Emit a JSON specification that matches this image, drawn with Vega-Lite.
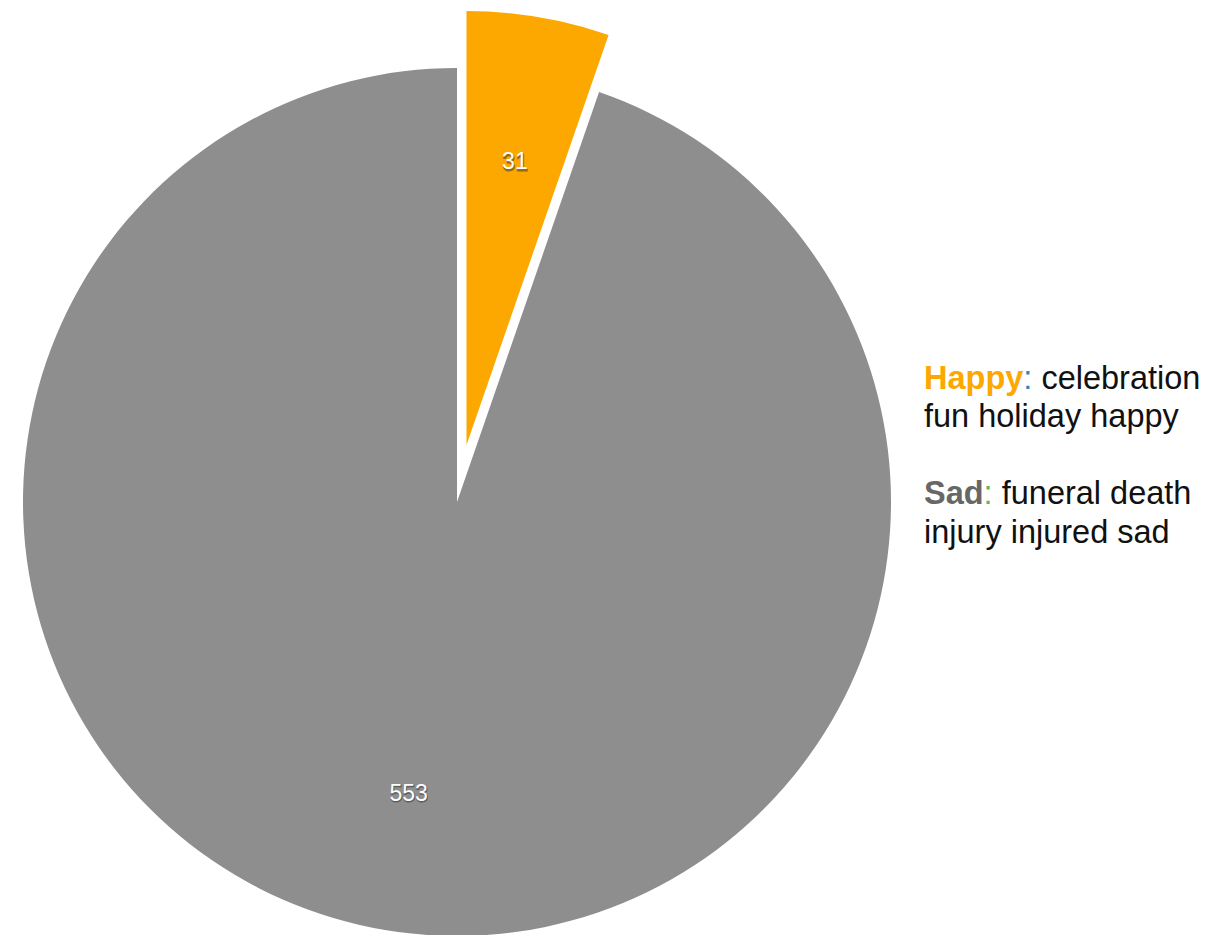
{
  "$schema": "https://vega.github.io/schema/vega-lite/v6.json",
  "padding": 0,
  "spacing": 10,
  "background": "white",
  "config": {"view": {"stroke": null}, "font": "Liberation Sans"},
  "hconcat": [
    {
      "width": 914,
      "height": 935,
      "data": {"values": [
        {"category": "Happy", "count": 31},
        {"category": "Sad", "count": 553}
      ]},
      "encoding": {
        "theta": {"field": "count", "type": "quantitative", "stack": true},
        "order": {"field": "category", "sort": "ascending"}
      },
      "layer": [
        {
          "mark": {
            "type": "arc",
            "outerRadius": 434,
            "clip": true,
            "xOffset": {"expr": "datum.category === 'Happy' ? 9.5 : 0"},
            "yOffset": {"expr": "datum.category === 'Happy' ? -22.5 : 34.5"}
          },
          "encoding": {
            "color": {
              "field": "category",
              "type": "nominal",
              "scale": {"domain": ["Happy", "Sad"], "range": ["#FCA800", "#8E8E8E"]},
              "legend": null
            }
          }
        },
        {
          "mark": {
            "type": "text",
            "radius": 291.5,
            "fontSize": 23,
            "fill": "#222222",
            "stroke": "#222222",
            "strokeWidth": 1,
            "opacity": 0.45,
            "dy": 6,
            "dx": 0.5,
            "xOffset": {"expr": "datum.category === 'Happy' ? 9.5 : 0"},
            "yOffset": {"expr": "datum.category === 'Happy' ? -22.5 : 34.5"}
          },
          "encoding": {
            "detail": {"field": "category"},
            "text": {"field": "count", "type": "quantitative"}
          }
        },
        {
          "mark": {
            "type": "text",
            "radius": 291.5,
            "fontSize": 23,
            "fill": "white",
            "dy": 4.5,
            "xOffset": {"expr": "datum.category === 'Happy' ? 9.5 : 0"},
            "yOffset": {"expr": "datum.category === 'Happy' ? -22.5 : 34.5"}
          },
          "encoding": {
            "detail": {"field": "category"},
            "text": {"field": "count", "type": "quantitative"}
          }
        }
      ]
    },
    {
      "width": 287,
      "height": 935,
      "data": {"values": [
        {"line": 1, "group": "Happy", "part": "key", "text": "Happy"},
        {"line": 1, "group": "Happy", "part": "colon", "text": ":"},
        {"line": 1, "group": "Happy", "part": "rest", "text": "celebration"},
        {"line": 2, "group": "Happy", "part": "plain", "text": "fun holiday happy"},
        {"line": 4, "group": "Sad", "part": "key", "text": "Sad"},
        {"line": 4, "group": "Sad", "part": "colon", "text": ":"},
        {"line": 4, "group": "Sad", "part": "rest", "text": "funeral death"},
        {"line": 5, "group": "Sad", "part": "plain", "text": "injury injured sad"}
      ]},
      "encoding": {
        "x": {"value": 0},
        "y": {
          "field": "line",
          "type": "quantitative",
          "scale": {"domain": [-9.104, 15.182], "reverse": true, "nice": false, "zero": false},
          "axis": null
        },
        "text": {"field": "text"}
      },
      "layer": [
        {
          "transform": [{"filter": "datum.part === 'key'"}],
          "mark": {"type": "text", "align": "left", "baseline": "alphabetic", "fontSize": 32.5, "fontWeight": "bold"},
          "encoding": {
            "color": {
              "field": "group",
              "type": "nominal",
              "scale": {"domain": ["Happy", "Sad"], "range": ["#FCA800", "#676767"]},
              "legend": null
            }
          }
        },
        {
          "transform": [{"filter": "datum.part === 'colon'"}],
          "mark": {
            "type": "text", "align": "left", "baseline": "alphabetic", "fontSize": 32.5,
            "dx": {"expr": "datum.group === 'Happy' ? 99.3 : 59.6"}
          },
          "encoding": {
            "color": {
              "field": "group",
              "type": "nominal",
              "scale": {"domain": ["Happy", "Sad"], "range": ["#2F86BE", "#5CB85C"]},
              "legend": null
            }
          }
        },
        {
          "transform": [{"filter": "datum.part === 'rest'"}],
          "mark": {
            "type": "text", "align": "left", "baseline": "alphabetic", "fontSize": 32.5, "fill": "#111111",
            "dx": {"expr": "datum.group === 'Happy' ? 117.4 : 77.7"}
          }
        },
        {
          "transform": [{"filter": "datum.part === 'plain'"}],
          "mark": {"type": "text", "align": "left", "baseline": "alphabetic", "fontSize": 32.5, "fill": "#111111"}
        }
      ],
      "resolve": {"scale": {"color": "independent"}}
    }
  ]
}
